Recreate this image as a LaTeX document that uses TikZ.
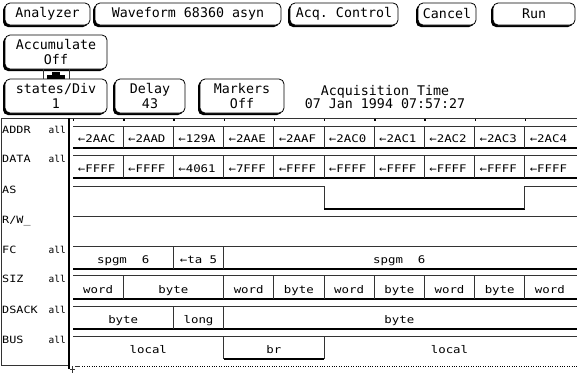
\documentclass[tikz,border=0pt]{standalone}
\usepackage{fontspec}
\newfontfamily\btnfont{DejaVu Sans Mono}
\newfontfamily\cellfont[FakeStretch=1.18]{DejaVu Sans Mono}
\usetikzlibrary{shadows,calc}

\tikzset{
  btn/.style={draw, fill=white, rounded corners=5pt, line width=0.8pt, inner sep=0pt,
    align=center, font=\btnfont\fontsize{13.3}{15}\selectfont,
    drop shadow={opacity=1, fill=black, shadow xshift=-2pt, shadow yshift=-2pt}},
  cell/.style={anchor=base, inner sep=0pt, font=\cellfont\fontsize{10.5}{12}\selectfont},
  lbl/.style={anchor=base west, inner sep=0pt, font=\cellfont\fontsize{10}{12}\selectfont},
  allbl/.style={anchor=base east, inner sep=0pt, font=\btnfont\fontsize{9.5}{12}\selectfont},
  thinln/.style={line width=0.9pt, black!80},
  thickln/.style={line width=2pt},
}

\begin{document}
\begin{tikzpicture}[x=1pt,y=-1pt]

\fill[white] (0,0) rectangle (577,373);
\useasboundingbox (0,0) rectangle (577,373);

% soft keys
\node[btn, minimum width=85pt, minimum height=22pt] (analyzer) at (47.5,14) {Analyzer};
\node[btn, minimum width=186pt, minimum height=22pt] (waveform) at (188,14) {Waveform 68360 asyn};
\node[btn, minimum width=108pt, minimum height=22pt] (acqctrl) at (344,14) {Acq.\ Control};
\node[btn, minimum width=58pt, minimum height=22pt] (cancel) at (447,14) {Cancel};
\node[btn, minimum width=82pt, minimum height=22pt] (run) at (534,14) {Run};

\node[btn, minimum width=102pt, minimum height=34pt] (acc) at (56,52) {Accumulate\\Off};
\node[btn, minimum width=102pt, minimum height=34pt] (states) at (56,96) {states/Div\\1};
\node[btn, minimum width=70pt, minimum height=34pt] (delay) at (150,96) {Delay\\43};
\node[btn, minimum width=84pt, minimum height=34pt] (markers) at (242,96) {Markers\\Off};

% link between accumulate and states/div
\draw[thinln] ([xshift=-13pt]acc.south) -- ([xshift=-13pt]states.north);
\draw[thinln] ([xshift=13pt]acc.south) -- ([xshift=13pt]states.north);
\fill ($(states.north)+(-9,0)$) rectangle ($(states.north)+(9,-4)$);
\fill ($(states.north)+(-4,-4)$) rectangle ($(states.north)+(4,-7)$);

\node[font=\btnfont\fontsize{13.3}{12}\selectfont, align=center] (acqtime) at (385,97)
  {Acquisition Time\\07 Jan 1994 07:57:27};

% label column and frame
\draw[thinln] (577,118.5) -- (1,118.5) -- (1,365) -- (68,365);
\draw[thickln] (68.5,118) -- (68.5,369);
\foreach \k in {0,...,9}
  \fill (73+50.2*\k,119) rectangle ++(1.3,2);

\foreach \name/\y/\all in {ADDR/133/all, DATA/162.5/all, AS/193/, {R/W\_}/223/,
    FC/253/all, SIZ/282.5/all, DSACK/313/all, BUS/343/all} {
  \node[lbl] at (2,\y) {\name};
  \node[allbl] at (66,\y) {\all};
}

% bus rows
\foreach \t/\b in {126/148, 155.5/177.5, 246/269, 275.5/299, 306/329} {
  \draw[thinln] (73,\t) -- (577,\t);
  \draw[thickln] (73,\b) -- (577,\b);
}
\foreach \k in {1,...,9} {
  \draw[thinln] (73+50.2*\k,126) -- (73+50.2*\k,148);
  \draw[thinln] (73+50.2*\k,155.5) -- (73+50.2*\k,177.5);
}
\foreach \k in {2,3} {
  \draw[thinln] (73+50.2*\k,246) -- (73+50.2*\k,269);
  \draw[thinln] (73+50.2*\k,306) -- (73+50.2*\k,329);
}
\foreach \k in {1,3,4,5,6,7,8,9}
  \draw[thinln] (73+50.2*\k,275.5) -- (73+50.2*\k,299);

\foreach \v [count=\i] in {2AAC,2AAD,129A,2AAE,2AAF,2AC0,2AC1,2AC2,2AC3,2AC4}
  \node[cell] (addr\i) at (96.6+50.2*\i-50.2,142.5) {←\v};
\foreach \v [count=\i] in {FFFF,FFFF,4061,7FFF,FFFF,FFFF,FFFF,FFFF,FFFF,FFFF}
  \node[cell] (data\i) at (96.6+50.2*\i-50.2,172) {←\v};

% AS and R/W_
\draw[thinln] (73,186) -- (324,186) -- (324,209);
\draw[thickln] (324,209) -- (524.8,209);
\draw[thinln] (524.8,209) -- (524.8,186) -- (577,186);
\draw[thinln] (73,216) -- (577,216);

% FC, SIZ, DSACK
\node[cell] (fc1) at (123.2,263.5) {spgm~~6};
\node[cell] (fc2) at (198.5,263.5) {←ta 5};
\node[cell] (fc3) at (399.3,263.5) {spgm~~6};

\foreach \x/\v [count=\i] in {98.1/word, 173.4/byte, 248.7/word, 298.9/byte, 349.1/word,
    399.3/byte, 449.5/word, 499.7/byte, 549.9/word}
  \node[cell] (siz\i) at (\x,293.5) {\v};

\node[cell] (dsack1) at (123.2,323.5) {byte};
\node[cell] (dsack2) at (198.5,323.5) {long};
\node[cell] (dsack3) at (399.3,323.5) {byte};

% BUS
\draw[thinln] (73,336) -- (577,336);
\draw[thinln] (223.6,336) -- (223.6,359);
\draw[thickln] (223.6,359) -- (324,359);
\draw[thinln] (324,359) -- (324,336);
\node[cell] (bus1) at (148.3,353.5) {local};
\node[cell] (bus2) at (273.8,353.5) {br};
\node[cell] (bus3) at (449.5,353.5) {local};

% cursor marker
\draw[thinln] (72,366) -- (72,373);
\draw[thinln] (69.5,369) -- (74.5,369);
\draw[thinln] (75,366) -- (80,366);
\draw[dotted] (82,366.5) -- (577,366.5);

\end{tikzpicture}
\end{document}
